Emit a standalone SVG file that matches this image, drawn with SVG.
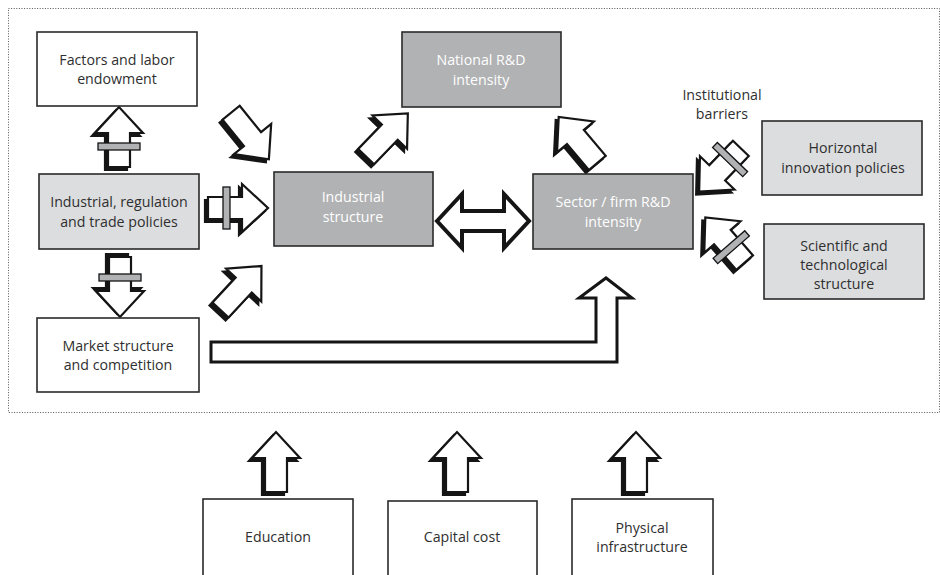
<svg xmlns="http://www.w3.org/2000/svg" xmlns:xlink="http://www.w3.org/1999/xlink" width="940" height="575" viewBox="0 0 940 575">
<style>
.frame{fill:none;stroke:#555;stroke-width:1;stroke-dasharray:1 1.6}
.box{stroke:#2a2a2a;stroke-width:1.6}
.w{fill:#fff}
.lg{fill:#dcdddf}
.dg{fill:#b1b2b4}
text{font-family:"Open Sans","Liberation Sans",sans-serif;font-size:14.2px;text-anchor:middle;fill:#2f2f2f}
.wt{fill:#fff}
.ar{fill:#fff;stroke:#151515;stroke-width:2.2;stroke-linejoin:miter}
.sh{fill:#151515;stroke:#151515;stroke-width:2.2;stroke-linejoin:miter}
.bar{fill:#b1b2b4;stroke:#151515;stroke-width:1.3}
</style>
<defs>
<polygon id="arr" points="-30,-11 4,-11 4,-24 30,0 4,24 4,11 -30,11"/>
</defs>
<rect class="frame" x="8.5" y="8.5" width="931" height="404"/>

<g id="connectors">
  <!-- Industrial policies -> Factors -->
  <use xlink:href="#arr" class="sh" transform="translate(116,140) rotate(-90)"/>
  <use xlink:href="#arr" class="ar" transform="translate(119,137) rotate(-90)"/>
  <rect class="bar" x="-13" y="-21" width="7" height="42" transform="translate(119,137) rotate(-90)"/>
  <!-- Industrial policies -> Market -->
  <use xlink:href="#arr" class="sh" transform="translate(117,284) rotate(90)"/>
  <use xlink:href="#arr" class="ar" transform="translate(120,287) rotate(90)"/>
  <rect class="bar" x="-13" y="-21" width="7" height="42" transform="translate(120,287) rotate(90)"/>
  <!-- Industrial policies -> Industrial structure -->
  <use xlink:href="#arr" class="sh" transform="translate(235,211) rotate(0)"/>
  <use xlink:href="#arr" class="ar" transform="translate(238,208) rotate(0)"/>
  <rect class="bar" x="-15" y="-21" width="7" height="42" transform="translate(238,208) rotate(0)"/>
  <!-- Factors -> Industrial structure -->
  <use xlink:href="#arr" class="sh" transform="translate(247,139) rotate(51)"/>
  <use xlink:href="#arr" class="ar" transform="translate(250,136) rotate(51)"/>
  <!-- Market -> Industrial structure -->
  <use xlink:href="#arr" class="sh" transform="translate(238,291) rotate(-47)"/>
  <use xlink:href="#arr" class="ar" transform="translate(241,288) rotate(-47)"/>
  <!-- Industrial structure -> National R&D -->
  <use xlink:href="#arr" class="sh" transform="translate(384,138) rotate(-46)"/>
  <use xlink:href="#arr" class="ar" transform="translate(387,135) rotate(-46)"/>
  <!-- Sector -> National R&D -->
  <use xlink:href="#arr" class="sh" transform="translate(575,143) rotate(-130)"/>
  <use xlink:href="#arr" class="ar" transform="translate(578,140) rotate(-130)"/>
  <!-- Horizontal -> Sector -->
  <use xlink:href="#arr" class="sh" transform="translate(717,173) rotate(134)"/>
  <use xlink:href="#arr" class="ar" transform="translate(720,170) rotate(134)"/>
  <rect class="bar" x="-18" y="-21" width="7" height="42" transform="translate(720,170) rotate(134)"/>
  <!-- Scientific -> Sector -->
  <use xlink:href="#arr" class="sh" transform="translate(722,243) rotate(-131)"/>
  <use xlink:href="#arr" class="ar" transform="translate(725,240) rotate(-131)"/>
  <rect class="bar" x="-13" y="-21" width="7" height="42" transform="translate(725,240) rotate(-131)"/>
  <!-- Industrial structure <-> Sector -->
  <polygon class="ar" style="stroke-width:4" points="437,221 462,194 462,211 504,211 504,194 529,221 504,248 504,231 462,231 462,248"/>
  <!-- Market -> Sector (bent) -->
  <polygon class="ar" style="stroke-width:3" points="211,342 596,342 596,298 579,298 606,278 632,298 617,298 617,362 211,362"/>
  <!-- bottom arrows -->
  <use xlink:href="#arr" class="sh" transform="translate(273,465) rotate(-90)"/>
  <use xlink:href="#arr" class="ar" transform="translate(276,462) rotate(-90)"/>
  <use xlink:href="#arr" class="sh" transform="translate(454,465) rotate(-90)"/>
  <use xlink:href="#arr" class="ar" transform="translate(457,462) rotate(-90)"/>
  <use xlink:href="#arr" class="sh" transform="translate(633,465) rotate(-90)"/>
  <use xlink:href="#arr" class="ar" transform="translate(636,462) rotate(-90)"/>
</g>

<g id="factors">
  <rect class="box w" x="37" y="32" width="160" height="74"/>
  <text x="117" y="65">Factors and labor</text>
  <text x="117" y="84">endowment</text>
</g>
<g id="industrial-policies">
  <rect class="box lg" x="39" y="174" width="160" height="75"/>
  <text x="119" y="207">Industrial, regulation</text>
  <text x="119" y="227">and trade policies</text>
</g>
<g id="market">
  <rect class="box w" x="37" y="318" width="162" height="74"/>
  <text x="118" y="351">Market structure</text>
  <text x="118" y="370">and competition</text>
</g>
<g id="industrial-structure">
  <rect class="box dg" x="274" y="172" width="159" height="74"/>
  <text class="wt" x="353" y="202">Industrial</text>
  <text class="wt" x="353" y="222">structure</text>
</g>
<g id="national-rd">
  <rect class="box dg" x="402" y="32" width="159" height="75"/>
  <text class="wt" x="481" y="65">National R&amp;D</text>
  <text class="wt" x="481" y="85">intensity</text>
</g>
<g id="sector-rd">
  <rect class="box dg" x="533" y="174" width="160" height="75"/>
  <text class="wt" x="613" y="207">Sector / firm R&amp;D</text>
  <text class="wt" x="613" y="227">intensity</text>
</g>
<g id="horizontal">
  <rect class="box lg" x="762" y="121" width="160" height="74"/>
  <text x="843" y="153">Horizontal</text>
  <text x="843" y="173">innovation policies</text>
</g>
<g id="scientific">
  <rect class="box lg" x="764" y="224" width="160" height="75"/>
  <text x="844" y="251">Scientific and</text>
  <text x="844" y="270">technological</text>
  <text x="844" y="289">structure</text>
</g>
<g id="institutional-barriers">
  <text x="722" y="100">Institutional</text>
  <text x="722" y="119">barriers</text>
</g>
<g id="education">
  <rect class="box w" x="203" y="499" width="150" height="82"/>
  <text x="278" y="542">Education</text>
</g>
<g id="capital-cost">
  <rect class="box w" x="388" y="501" width="149" height="82"/>
  <text x="462" y="542">Capital cost</text>
</g>
<g id="physical-infrastructure">
  <rect class="box w" x="572" y="499" width="141" height="82"/>
  <text x="642" y="533">Physical</text>
  <text x="642" y="552">infrastructure</text>
</g>
</svg>
